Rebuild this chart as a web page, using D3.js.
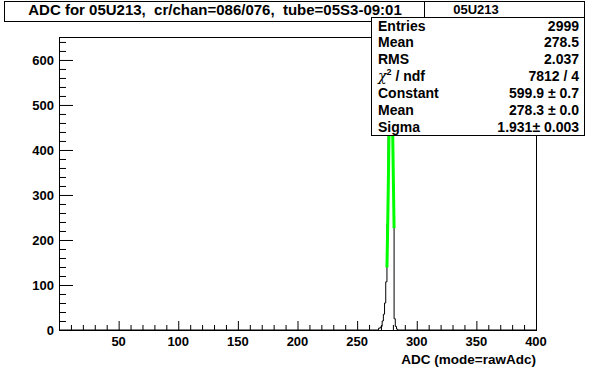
<!DOCTYPE html>
<html>
<head>
<meta charset="utf-8">
<script src="https://cdn.jsdelivr.net/npm/d3@7"></script>
<style>
    body { margin: 0; background: #fff; }
    svg text { font-family: "Liberation Sans", Arial, sans-serif; font-weight: bold; fill: #000; white-space: pre; }
</style>
</head>
<body>
<div id="chart"></div>
<script>
/*
 * Data: ADC histogram, one count per 1-unit bin starting at binStart
 * */
var binStart = 268;
var binCounts = [4, 5, 8, 20, 35, 60, 107, 235, 430, 600, 620, 520, 320, 25, 8, 2];

// gaussian fit (hidden part estimated from the stats box)
var fitX = [275, 275.5, 276, 276.5, 277, 277.5, 278, 278.5, 279, 279.5, 280, 280.5, 281];
var fitY = [139, 210, 295, 388, 478, 551, 593, 597, 562, 495, 407, 314, 226];

var xTicks = [50, 100, 150, 200, 250, 300, 350, 400];
var yTicks = [0, 100, 200, 300, 400, 500, 600];

var titleText = 'ADC for 05U213,  cr/chan=086/076,  tube=05S3-09:01';
var statsName = '05U213';
var statsLabels = ['Entries', 'Mean', 'RMS', 'chi', 'Constant', 'Mean', 'Sigma'];
var statsValues = ['2999', '278.5', '2.037', '7812 / 4', '599.9 \u00b1 0.7', '278.3 \u00b1 0.0', '1.931\u00b1 0.003'];

/*
 * Layout
 * */
var width = 596,
    height = 368,
    frame = { left: 59, right: 536, top: 37, bottom: 330 };

var svg = d3.select('#chart').append('svg')
    .attr('width', width)
    .attr('height', height);

var x = d3.scaleLinear().domain([0, 400]).range([frame.left, frame.right]);
var y = d3.scaleLinear().domain([0, 651]).range([frame.bottom, frame.top]);

/*
 * Histogram outline (steps over the full 0..400 range)
 * */
function histogram() {
    var pts = [[0, 0]];
    pts.push([binStart, 0]);
    binCounts.forEach(function (c, i) {
        pts.push([binStart + i, c]);
        pts.push([binStart + i + 1, c]);
    });
    pts.push([binStart + binCounts.length, 0]);
    pts.push([400, 0]);

    var line = d3.line()
        .x(function (d) { return x(d[0]); })
        .y(function (d) { return y(d[1]); });

    svg.append('path')
        .attr('d', line(pts))
        .attr('fill', 'none')
        .attr('stroke', '#000')
        .attr('stroke-width', 1);
}

function fitCurve() {
    var line = d3.line()
        .x(function (d, i) { return x(fitX[i]); })
        .y(function (d) { return y(d); });

    svg.append('path')
        .attr('d', line(fitY))
        .attr('fill', 'none')
        .attr('stroke', '#00ff00')
        .attr('stroke-width', 3);
}

/*
 * Axes, ROOT style: ticks pointing into the frame
 * */
function axes() {
    var xAxis = d3.axisTop(x)
        .tickValues(d3.range(10, 401, 10))
        .tickSize(0)
        .tickFormat('');
    var gx = svg.append('g').attr('transform', 'translate(0,' + frame.bottom + ')');
    gx.call(xAxis);
    gx.select('.domain').remove();
    gx.selectAll('.tick line')
        .attr('y2', function (d) { return d % 50 === 0 ? -9 : -5; })
        .attr('stroke', '#000');

    svg.append('g').selectAll('text')
        .data(xTicks)
        .enter().append('text')
        .attr('x', function (d) { return x(d); })
        .attr('y', frame.bottom + 16)
        .attr('text-anchor', 'middle')
        .attr('font-size', 13)
        .text(function (d) { return d; });

    var yAxis = d3.axisRight(y)
        .tickValues(d3.range(0, 651, 20))
        .tickSize(0)
        .tickFormat('');
    var gy = svg.append('g').attr('transform', 'translate(' + frame.left + ',0)');
    gy.call(yAxis);
    gy.select('.domain').remove();
    gy.selectAll('.tick line')
        .attr('x2', function (d) { return d % 100 === 0 ? 14 : 7; })
        .attr('stroke', '#000');

    svg.append('g').selectAll('text')
        .data(yTicks)
        .enter().append('text')
        .attr('x', frame.left - 5)
        .attr('y', function (d) { return y(d) + 5; })
        .attr('text-anchor', 'end')
        .attr('font-size', 13)
        .text(function (d) { return d; });

    svg.append('text')
        .attr('x', frame.right)
        .attr('y', frame.bottom + 34)
        .attr('text-anchor', 'end')
        .attr('font-size', 13.5)
        .text('ADC (mode=rawAdc)');

    svg.append('rect')
        .attr('x', frame.left + 0.5)
        .attr('y', frame.top + 0.5)
        .attr('width', frame.right - frame.left)
        .attr('height', frame.bottom - frame.top)
        .attr('fill', 'none')
        .attr('stroke', '#000');
}

/*
 * Title and stats boxes
 * */
function titleBox() {
    svg.append('rect')
        .attr('x', 4.5).attr('y', 1.5)
        .attr('width', 420).attr('height', 20)
        .attr('fill', '#fff').attr('stroke', '#000');
    svg.append('text')
        .attr('x', 215).attr('y', 15)
        .attr('text-anchor', 'middle')
        .attr('font-size', 15)
        .text(titleText);
}

function statsBox() {
    var left = 371, right = 584, top = 17, bottom = 135;

    // name header sits right of the title box
    svg.append('rect')
        .attr('x', 424.5).attr('y', 1.5)
        .attr('width', right - 424).attr('height', top - 1)
        .attr('fill', '#fff').attr('stroke', '#000');
    svg.append('text')
        .attr('x', 476).attr('y', 14)
        .attr('text-anchor', 'middle')
        .attr('font-size', 13)
        .text(statsName);

    svg.append('rect')
        .attr('x', left + 0.5).attr('y', top + 0.5)
        .attr('width', right - left).attr('height', bottom - top)
        .attr('fill', '#fff').attr('stroke', '#000');

    var rowY = d3.scaleLinear().domain([0, 6]).range([30.5, 132]);

    statsLabels.forEach(function (lab, i) {
        var t = svg.append('text')
            .attr('x', left + 7)
            .attr('y', rowY(i))
            .attr('font-size', 14);
        if (lab === 'chi') {
            t.append('tspan').attr('font-weight', 'normal').attr('font-family', 'DejaVu Serif').attr('font-style', 'italic').text('\u03c7');
            t.append('tspan').attr('dy', -6).attr('font-size', 9).text('2');
            t.append('tspan').attr('dy', 6).text(' / ndf');
        } else {
            t.text(lab);
        }
        svg.append('text')
            .attr('x', right - 5)
            .attr('y', rowY(i))
            .attr('text-anchor', 'end')
            .attr('font-size', 14)
            .text(statsValues[i]);
    });
}

histogram();
fitCurve();
axes();
titleBox();
statsBox();
</script>
</body>
</html>
